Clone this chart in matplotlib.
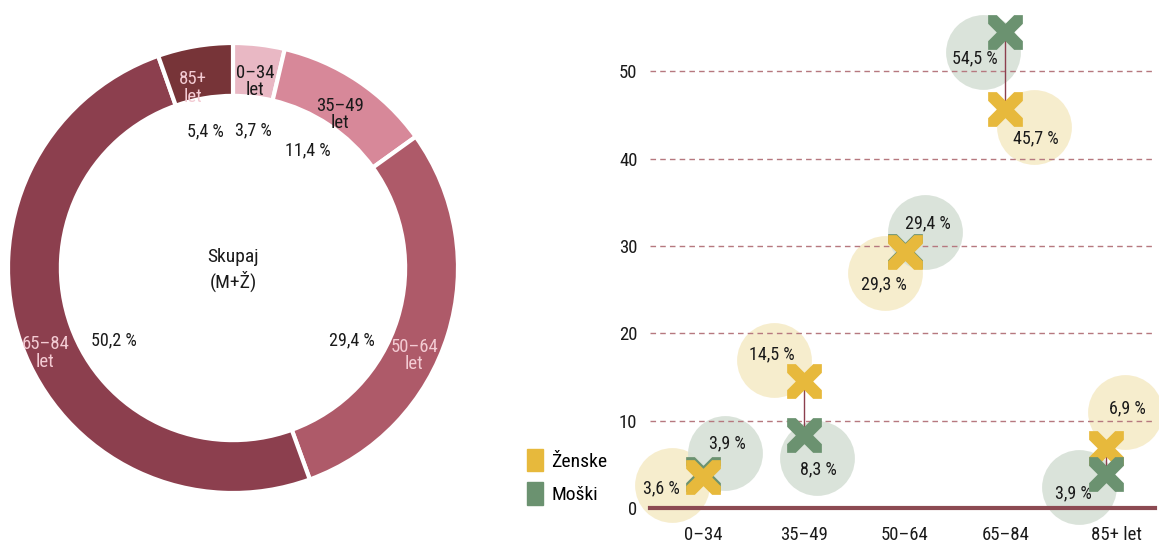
import matplotlib.pyplot as plt
import numpy as np
from matplotlib import font_manager
from matplotlib.path import Path
from matplotlib.patches import Patch
from matplotlib.transforms import offset_copy, ScaledTranslation

# pick a condensed face that is installed
have = {f.name for f in font_manager.fontManager.ttflist}
for fam in ['Roboto Condensed', 'Fira Sans Condensed', 'Archivo Narrow',
            'IBM Plex Sans Condensed', 'Barlow Semi Condensed', 'Liberation Sans Narrow']:
    if fam in have:
        break
else:
    fam = 'DejaVu Sans'
plt.rcParams['font.family'] = [fam, 'DejaVu Sans']

# Donut: share of all (M+Ž) by age group
groups = ['0–34', '35–49', '50–64', '65–84', '85+']
total_pct = [3.7, 11.4, 29.4, 50.2, 5.4]
total_lbl = ['3,7 %', '11,4 %', '29,4 %', '50,2 %', '5,4 %']

# Right chart: women vs men by age group
cats = ['0–34', '35–49', '50–64', '65–84', '85+ let']
women = [3.6, 14.5, 29.3, 45.7, 6.9]
men = [3.9, 8.3, 29.4, 54.5, 3.9]
women_lbl = ['3,6 %', '14,5 %', '29,3 %', '45,7 %', '6,9 %']
men_lbl = ['3,9 %', '8,3 %', '29,4 %', '54,5 %', '3,9 %']

ring_cols = ['#e9b8c4', '#d78899', '#ae5a69', '#8c3f4e', '#773438']
seg_txt_cols = ['#1a1a1a', '#1a1a1a', '#f3cbd3', '#f3cbd3', '#f3cbd3']
YEL, GRN = '#e7b93c', '#6b9270'
YEL_BG, GRN_BG = '#f6ebc8', '#d6e0d6'
TXT = '#1a1a1a'

fig = plt.figure(figsize=(11.59, 5.48), dpi=100)

# ---- donut ----
W, H = 1159, 548
ax1 = fig.add_axes([8 / W, 55 / H, 450 / W, 450 / H])
ax1.pie(total_pct, colors=ring_cols, startangle=90, counterclock=False,
        radius=1, wedgeprops=dict(width=0.235, edgecolor='white', linewidth=3))
ax1.set_xlim(-1, 1)
ax1.set_ylim(-1, 1)
ax1.set_aspect('equal')
ax1.axis('off')

frac = np.array(total_pct) / sum(total_pct)
mids = (np.cumsum(frac) - frac / 2) * 360
seg_nudge = [0, 1, 8.5, -4.7, -2.8]
seg_r = [0.835, 0.83, 0.895, 0.915, 0.82]
pct_nudge = [1.7, -1.3, 14, -11.6, -1.8]
for i, g in enumerate(groups):
    a = np.radians(mids[i] + seg_nudge[i])
    r = seg_r[i]
    ax1.text(r * np.sin(a), r * np.cos(a), g + '\nlet', ha='center', va='center',
             fontsize=13.5, color=seg_txt_cols[i], linespacing=0.95)
    a = np.radians(mids[i] + pct_nudge[i])
    r = 0.62
    ax1.text(r * np.sin(a), r * np.cos(a), total_lbl[i], ha='center', va='center',
             fontsize=13, color=TXT)
ax1.text(0, -0.01, 'Skupaj\n(M+Ž)', ha='center', va='center', fontsize=14,
         color=TXT, linespacing=1.3)

# ---- dot plot ----
ax2 = fig.add_axes([650 / W, 40 / H, 505 / W, 498 / H])
x = np.arange(len(cats))
ax2.set_xlim(-0.526, 4.486)
ax2.set_ylim(0, 57)
for s in ax2.spines.values():
    s.set_visible(False)
ax2.set_yticks([0, 10, 20, 30, 40, 50])
ax2.set_xticks(x)
ax2.set_xticklabels(cats)
ax2.tick_params(length=0, labelsize=13.5, colors=TXT)
ax2.tick_params(axis='x', pad=13)
ax2.tick_params(axis='y', pad=9)
last = ax2.get_xticklabels()[-1]
last.set_transform(last.get_transform() + ScaledTranslation(10 / 100, 0, fig.dpi_scale_trans))
for v in [10, 20, 30, 40, 50]:
    ax2.axhline(v, color='#b6787f', lw=1, ls=(0, (4, 3)), zorder=1)
ax2.axhline(0, color='#8c4a52', lw=3, zorder=6, clip_on=False)

# square-clipped X marker
d = 0.5
band1 = [(-1, -1), (-1 + d, -1), (1, 1 - d), (1, 1), (1 - d, 1), (-1, -1 + d), (-1, -1)]
band2 = [(1, -1), (1, -1 + d), (-1 + d, 1), (-1, 1), (-1, 1 - d), (1 - d, -1), (1, -1)]
verts = band1 + band2
codes = ([Path.MOVETO] + [Path.LINETO] * 5 + [Path.CLOSEPOLY]) * 2
xmark = Path(verts, codes)

# offsets in pixels (dx right, dy up): circle, label
w_off = [((-31, -8), (-42, -12)), ((-30, 21), (-32, 27)), ((-20, -21), (-21, -32)),
         ((29, -18), (31, -30)), ((19, 36), (21, 39))]
m_off = [((22, 21), (24, 31)), ((13, -23), (15, -34)), ((20, 19), (23, 28)),
         ((-22, -20), (-30, -27)), ((-27, -13), (-33, -19))]

for i in range(len(cats)):
    ax2.plot([x[i], x[i]], [women[i], men[i]], color='#8c3f4e', lw=1, zorder=3)
    for vals, lbls, offs, col, bg in [(women, women_lbl, w_off, YEL, YEL_BG),
                                      (men, men_lbl, m_off, GRN, GRN_BG)]:
        (cdx, cdy), (tdx, tdy) = offs[i]
        tr = offset_copy(ax2.transData, fig=fig, x=cdx, y=cdy, units='dots')
        ax2.scatter([x[i]], [vals[i]], s=2900, color=bg, alpha=0.9, lw=0,
                    transform=tr, zorder=0.5, clip_on=False)
        ax2.annotate(lbls[i], (x[i], vals[i]), xytext=(tdx * 0.72, tdy * 0.72),
                     textcoords='offset points', ha='center', va='center',
                     fontsize=13, color=TXT, zorder=8, annotation_clip=False)
    # lower value drawn on top
    pts = sorted([(women[i], YEL), (men[i], GRN)], key=lambda p: -p[0])
    for k, (v, col) in enumerate(pts):
        ax2.plot([x[i]], [v], marker=xmark, markersize=25, color=col,
                 markeredgewidth=0, ls='none', zorder=4 + k, clip_on=False)

handles = [Patch(color=YEL, label='Ženske'), Patch(color=GRN, label='Moški')]
fig.legend(handles=handles, loc='upper left', bbox_to_anchor=(527 / W, 1 - 449 / H),
           frameon=False, fontsize=14, handlelength=0.8, handleheight=1.4,
           handletextpad=0.45, labelspacing=0.55, borderpad=0, borderaxespad=0)

fig.savefig('out.png', dpi=100)
